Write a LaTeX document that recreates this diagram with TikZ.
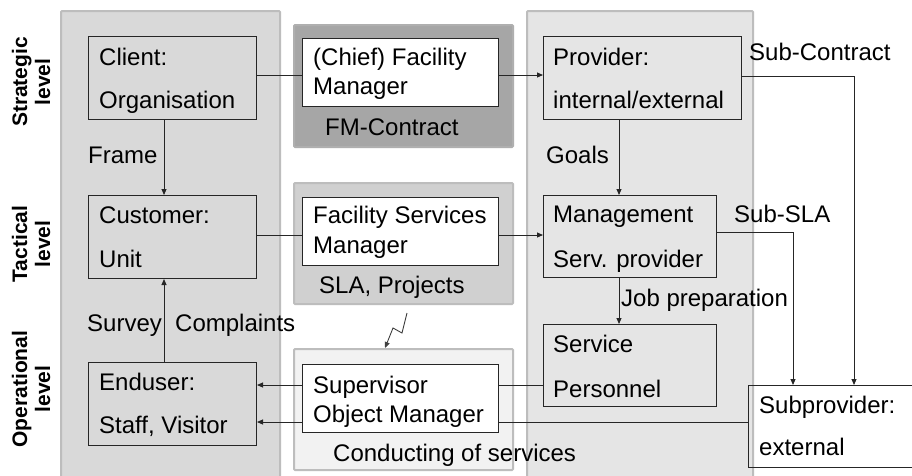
\documentclass[tikz,border=0pt]{standalone}
\usepackage{fontspec}
\setmainfont{Liberation Sans}
\usetikzlibrary{arrows.meta}
\newcommand{\fsz}{\fontsize{24}{28}\selectfont}
\newcommand{\lvlfont}{\fontsize{21}{23}\selectfont\bfseries}
\definecolor{panelL}{HTML}{D9D9D9}
\definecolor{panelR}{HTML}{E5E5E5}
\definecolor{panelFM}{HTML}{A6A6A6}
\definecolor{panelSLA}{HTML}{D0D0D0}
\definecolor{panelOP}{HTML}{F2F2F2}
\definecolor{panelEdge}{HTML}{BDBDBD}
\tikzset{
  panel/.style={line width=2pt, draw=panelEdge, rounded corners=1pt},
  box/.style={draw=black!85, line width=1pt, anchor=north west, inner sep=0pt},
  txt/.style={anchor=base west, inner sep=0pt, font=\fsz},
  lvl/.style={rotate=90, align=center, inner sep=0pt, font=\lvlfont},
  arr/.style={-{Triangle[length=6pt,width=5pt]}, line width=0.9pt, draw=black!85},
  conn/.style={line width=0.9pt, draw=black!85}
}
\begin{document}
\begin{tikzpicture}[x=1pt,y=-1pt]
\useasboundingbox (0,0) rectangle (912,475);
\fill[white] (0,0) rectangle (912,475);
% panels
\draw[panel, fill=panelL] (61,11) rectangle (280,490);
\draw[panel, fill=panelR] (527,11) rectangle (753,490);
\draw[panel, fill=panelFM, draw=panelFM!90!white] (294,25) rectangle (513,147);
\draw[panel, fill=panelSLA] (294,183) rectangle (513,304);
\draw[panel, fill=panelOP] (294,349) rectangle (513,470);
% level labels
\node[lvl] (lstrat) at (31,82) {Strategic\\level};
\node[lvl] (ltact) at (31,244) {Tactical\\level};
\node[lvl] (loper) at (31,389) {Operational\\level};
% boxes
\node[box, minimum width=168pt, minimum height=83pt] (client) at (88,36) {};
\node[box, minimum width=168pt, minimum height=83pt] (customer) at (88,195) {};
\node[box, minimum width=168pt, minimum height=83pt] (enduser) at (88,362) {};
\node[box, fill=white, minimum width=196pt, minimum height=68pt] (fm) at (302,38) {};
\node[box, fill=white, minimum width=196pt, minimum height=68pt] (fsm) at (302,197) {};
\node[box, fill=white, minimum width=196pt, minimum height=68pt] (sup) at (302,364) {};
\node[box, minimum width=198pt, minimum height=83pt] (prov) at (543,36) {};
\node[box, minimum width=173pt, minimum height=82pt] (mgmt) at (543,195) {};
\node[box, minimum width=173pt, minimum height=82pt] (serv) at (543,324) {};
\node[box, minimum width=180pt, minimum height=82pt] (subp) at (748,385) {};
% box texts
\node[txt] (t1) at (99,65) {Client:};
\node[txt] (t2) at (99,108) {Organisation};
\node[txt] (t3) at (99,223) {Customer:};
\node[txt] (t4) at (99,267) {Unit};
\node[txt] (t5) at (99,390) {Enduser:};
\node[txt] (t6) at (99,433) {Staff, Visitor};
\node[txt] (t7) at (313,65) {(Chief) Facility};
\node[txt] (t8) at (313,94) {Manager};
\node[txt] (t9) at (325,135) {FM-Contract};
\node[txt] (t10) at (313,223) {Facility Services};
\node[txt] (t11) at (313,253) {Manager};
\node[txt] (t12) at (319,293) {SLA, Projects};
\node[txt] (t13) at (313,393) {Supervisor};
\node[txt] (t14) at (313,422) {Object Manager};
\node[txt] (t15) at (333,461) {Conducting of services};
\node[txt] (t16) at (553,65) {Provider:};
\node[txt] (t17) at (553,108) {internal/external};
\node[txt] (t18) at (553,222) {Management};
\node[txt] (t19) at (553,267) {Serv. provider};
\node[txt] (t20) at (553,352) {Service};
\node[txt] (t21) at (553,397) {Personnel};
\node[txt] (t22) at (759,413) {Subprovider:};
\node[txt] (t23) at (759,455) {external};
% connector labels
\node[txt] (lframe) at (88,163) {Frame};
\node[txt] (lgoals) at (546,163) {Goals};
\node[txt] (lsubc) at (749,60) {Sub-Contract};
\node[txt] (lsubs) at (734,222) {Sub-SLA};
\node[txt] (ljob) at (621,306) {Job preparation};
\node[txt] (lsurv) at (87,331) {Survey};
\node[txt] (lcompl) at (175,331) {Complaints};
% guide coordinates
\coordinate (r1) at (0,75);
\coordinate (r2) at (0,235);
\coordinate (r3) at (0,385);
\coordinate (r4) at (0,422);
\coordinate (rc) at (0,76);
\coordinate (rs) at (0,232);
\coordinate (c1) at (164,0);
\coordinate (c2) at (619,0);
\coordinate (c3) at (793,0);
\coordinate (c4) at (854,0);
% connectors
\draw[conn] (client.east |- r1) -- (fm.west |- r1);
\draw[arr] (fm.east |- r1) -- (prov.west |- r1);
\draw[conn] (customer.east |- r2) -- (fsm.west |- r2);
\draw[arr] (fsm.east |- r2) -- (mgmt.west |- r2);
\draw[arr] (client.south -| c1) -- (customer.north -| c1);
\draw[arr] (enduser.north -| c1) -- (customer.south -| c1);
\draw[arr] (sup.west |- r3) -- (enduser.east |- r3);
\draw[arr] (sup.west |- r4) -- (enduser.east |- r4);
\draw[conn] (serv.west |- r3) -- (sup.east |- r3);
\draw[conn] (sup.east |- r4) -- (subp.west |- r4);
\draw[arr] (prov.south -| c2) -- (mgmt.north -| c2);
\draw[arr] (mgmt.south -| c2) -- (serv.north -| c2);
\draw[arr] (prov.east |- rc) -| (subp.north -| c4);
\draw[arr] (mgmt.east |- rs) -| (subp.north -| c3);
% lightning
\coordinate (z0) at (407,313);
\coordinate (z1) at (402,333);
\coordinate (z2) at (393,328);
\draw[arr, draw=black!75] (z0) -- (z1) -- (z2) -- (385,348);
\end{tikzpicture}
\end{document}
